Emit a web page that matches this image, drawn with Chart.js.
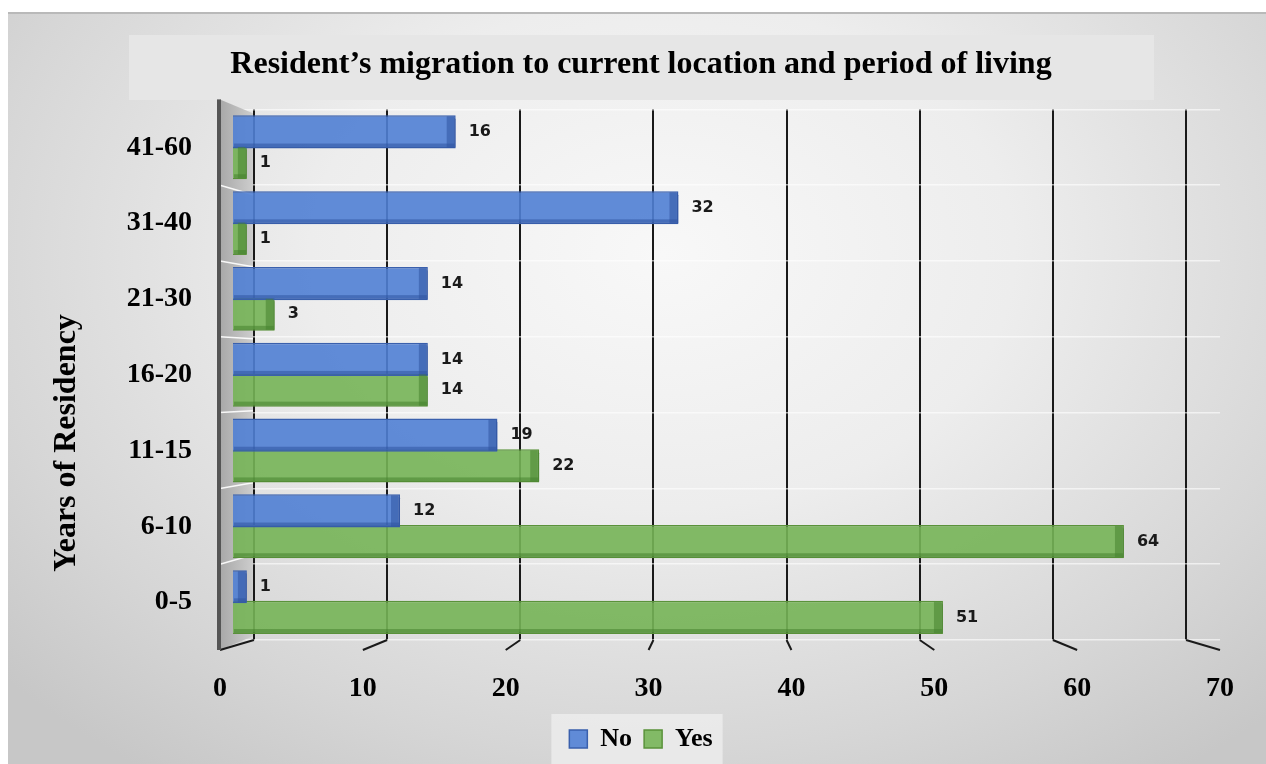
<!DOCTYPE html>
<html>
<head>
<meta charset="utf-8">
<script src="https://cdn.jsdelivr.net/npm/chart.js@4.4.0/dist/chart.umd.min.js"></script>
<style>
  html, body { margin: 0; padding: 0; background: #fff; }
  #frame {
    position: absolute; left: 8px; top: 12px; width: 1258px; height: 750px;
    border-top: 2px solid #b9b9b9;
    background: radial-gradient(ellipse 70% 85% at 52% 32%, #f8f8f8 0%, #ededed 40%, #d6d6d6 78%, #c7c7c7 100%);
  }
  #chart { position: absolute; left: 0; top: 0; }
</style>
</head>
<body>
<div id="frame"></div>
<canvas id="chart" width="1266" height="764"></canvas>
<script>
const categories = ['41-60', '31-40', '21-30', '16-20', '11-15', '6-10', '0-5'];
const valuesNo = [16, 32, 14, 14, 19, 12, 1];
const valuesYes = [1, 1, 3, 14, 22, 64, 51];
const tickValues = [0, 10, 20, 30, 40, 50, 60, 70];

const serif = 'Liberation Serif, Times New Roman, serif';

// wall, floor, 3D caps, value labels
const decor = {
  id: 'decor',
  beforeDraw(chart) {
    const ctx = chart.ctx;
    ctx.save();
    ctx.fillStyle = '#e6e6e6';
    ctx.fillRect(129, 35, 1025, 65);
    const boxes = chart.legend.legendHitBoxes;
    if (boxes && boxes.length) {
      const last = boxes[boxes.length - 1];
      const l = boxes[0].left - 18, r = last.left + last.width + 10;
      const t = boxes[0].top - 12, b = boxes[0].top + boxes[0].height + 12;
      ctx.fillStyle = 'rgba(238,238,238,0.8)';
      ctx.fillRect(l, t, r - l, b - t);
    }
    ctx.restore();
  },
  beforeDatasetsDraw(chart) {
    const ctx = chart.ctx;
    const area = chart.chartArea;
    const xb = chart.scales.xb, xt = chart.scales.xt;
    const midY = (area.top + area.bottom) / 2;
    const back = y => midY + (y - midY) * 0.95;
    const wx0 = area.left, wx1 = xb.getPixelForValue(0) - 1;
    const top = area.top - 10, bot = area.bottom + 10;
    ctx.save();
    const g = ctx.createLinearGradient(wx0, 0, wx1, 0);
    g.addColorStop(0, '#a8a8a8');
    g.addColorStop(1, '#cdcdcd');
    ctx.fillStyle = g;
    ctx.beginPath();
    ctx.moveTo(wx0, top);
    ctx.lineTo(wx1, back(top));
    ctx.lineTo(wx1, back(bot));
    ctx.lineTo(wx0, bot);
    ctx.closePath();
    ctx.fill();
    // separators on the wall
    const band = (area.bottom - area.top) / categories.length;
    ctx.strokeStyle = 'rgba(255,255,255,0.9)';
    ctx.lineWidth = 1.5;
    for (let j = 1; j < categories.length; j++) {
      const yy = area.top + j * band;
      ctx.beginPath();
      ctx.moveTo(wx0, yy);
      ctx.lineTo(wx1, back(yy));
      ctx.stroke();
    }
    // floor lines
    ctx.strokeStyle = '#1a1a1a';
    ctx.lineWidth = 2;
    tickValues.forEach(v => {
      ctx.beginPath();
      ctx.moveTo(xb.getPixelForValue(v), area.bottom);
      ctx.lineTo(xt.getPixelForValue(v), bot);
      ctx.stroke();
    });
    // dark edge of the wall
    ctx.fillStyle = '#555';
    ctx.fillRect(wx0 - 3, top, 4, bot - top);
    ctx.restore();
  },
  afterDatasetsDraw(chart) {
    const ctx = chart.ctx;
    ctx.save();
    chart.data.datasets.forEach((ds, di) => {
      const meta = chart.getDatasetMeta(di);
      meta.data.forEach((bar, i) => {
        const p = bar.getProps(['x', 'y', 'base', 'height'], true);
        const top = p.y - p.height / 2;
        ctx.fillStyle = ds.shadeColor;
        ctx.fillRect(p.base + 1, top + p.height - 5, p.x - p.base - 2, 4);
        const cw = Math.min(9, p.x - p.base);
        ctx.beginPath();
        ctx.moveTo(p.x - cw, top + 1);
        ctx.lineTo(p.x - 2, top + 1);
        ctx.lineTo(p.x, top + 4);
        ctx.lineTo(p.x, top + p.height - 1);
        ctx.lineTo(p.x - cw, top + p.height - 1);
        ctx.closePath();
        ctx.fill();
        ctx.fillStyle = '#1a1a1a';
        ctx.font = 'bold 16px DejaVu Sans';
        ctx.textAlign = 'left';
        ctx.textBaseline = 'middle';
        ctx.fillText(String(ds.data[i]), p.x + 13, p.y);
      });
    });
    ctx.restore();
  },
  afterDraw(chart) {
    const ctx = chart.ctx;
    ctx.save();
    ctx.translate(67, 443);
    ctx.rotate(-Math.PI / 2);
    ctx.font = 'bold 32px ' + serif;
    ctx.fillStyle = '#000';
    ctx.textAlign = 'center';
    ctx.textBaseline = 'middle';
    ctx.fillText('Years of Residency', 0, 0);
    ctx.restore();
  }
};

new Chart(document.getElementById('chart').getContext('2d'), {
  type: 'bar',
  data: {
    labels: categories,
    datasets: [{
      label: 'No',
      data: valuesNo,
      backgroundColor: 'rgba(80,128,212,0.9)',
      borderColor: '#3a60ad',
      borderWidth: 1.5,
      shadeColor: 'rgba(48,84,160,0.55)',
      barPercentage: 1.08,
      categoryPercentage: 0.81
    }, {
      label: 'Yes',
      data: valuesYes,
      backgroundColor: 'rgba(118,180,86,0.9)',
      borderColor: '#5a923a',
      borderWidth: 1.5,
      shadeColor: 'rgba(70,130,45,0.55)',
      barPercentage: 1.08,
      categoryPercentage: 0.81
    }]
  },
  options: {
    indexAxis: 'y',
    responsive: false,
    animation: false,
    layout: { padding: { left: 60, right: 44, top: 0, bottom: 2 } },
    plugins: {
      title: {
        display: true,
        text: 'Resident\u2019s migration to current location and period of living',
        color: '#000',
        font: { family: serif, size: 32, weight: 'bold' },
        padding: { top: 46, bottom: 25 }
      },
      legend: {
        position: 'bottom',
        labels: {
          color: '#000',
          font: { family: serif, size: 26, weight: 'bold' },
          boxWidth: 18,
          boxHeight: 18,
          padding: 12
        }
      },
      tooltip: { enabled: false }
    },
    scales: {
      x: { type: 'linear', min: -0.93, max: 70.9, display: false },
      xb: {
        type: 'linear', position: 'top', min: -2.55, max: 72.55,
        afterBuildTicks: s => { s.ticks = tickValues.map(v => ({ value: v })); },
        afterFit: s => { s.height = 0; },
        border: { display: false },
        ticks: { display: false },
        grid: { color: '#1a1a1a', lineWidth: 2, drawTicks: false }
      },
      xt: {
        type: 'linear', position: 'bottom', min: 0, max: 70,
        afterBuildTicks: s => { s.ticks = tickValues.map(v => ({ value: v })); },
        afterFit: s => { s.height = 74; },
        border: { display: false },
        grid: { display: false, drawTicks: false },
        ticks: { color: '#000', font: { family: serif, size: 28, weight: 'bold' }, padding: 32 }
      },
      y: {
        type: 'category',
        afterFit: s => { s.width = 160; },
        border: { display: false },
        grid: { color: 'rgba(255,255,255,0.6)', lineWidth: 1.5, drawTicks: false },
        ticks: { color: '#000', font: { family: serif, size: 28, weight: 'bold' }, padding: 28 }
      }
    }
  },
  plugins: [decor]
});
</script>
</body>
</html>
